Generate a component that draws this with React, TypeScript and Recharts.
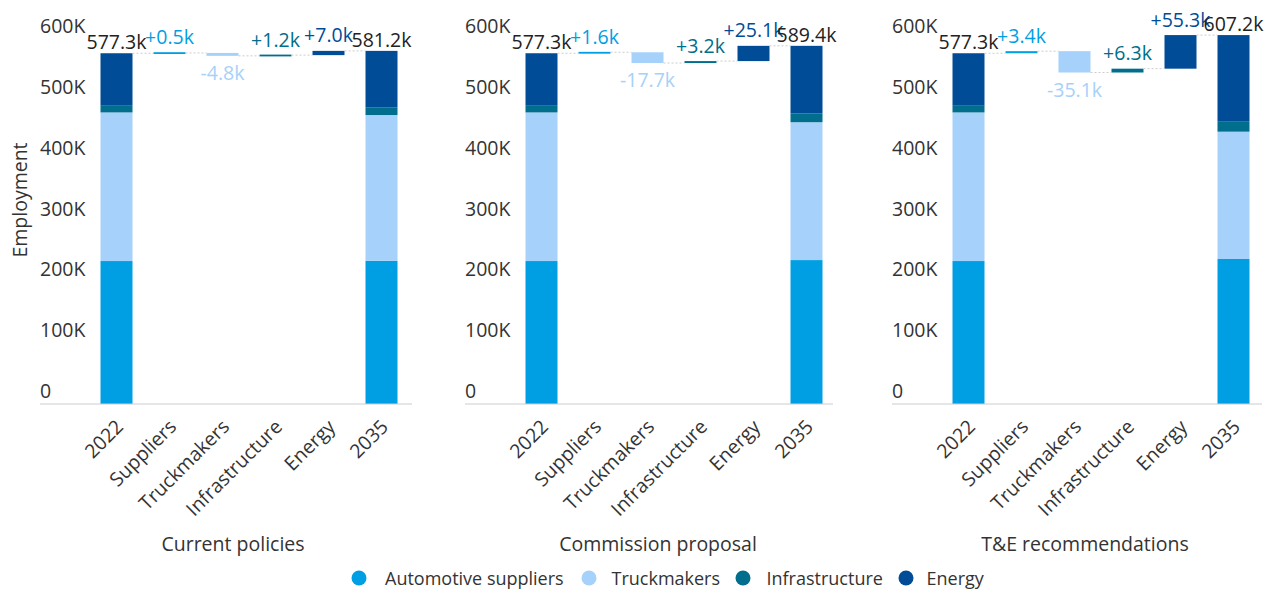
import React from 'react';
import { ComposedChart, Bar, XAxis, YAxis, LabelList, Label } from 'recharts';

// ---------- data ----------
const CATEGORIES = ['2022', 'Suppliers', 'Truckmakers', 'Infrastructure', 'Energy', '2035'];
const SERIES_NAMES = ['Automotive suppliers', 'Truckmakers', 'Infrastructure', 'Energy'];
const SERIES_KEYS = ['auto', 'trucks', 'infra', 'energy'];
const BASE_2022 = [235.3, 244.6, 11.0, 86.4]; // thousands of jobs
const TOTAL_2022 = 577.3;
const DELTAS_CURRENT = [0.5, -4.8, 1.2, 7.0];
const DELTAS_COMMISSION = [1.6, -17.7, 3.2, 25.1];
const DELTAS_TE = [3.4, -35.1, 6.3, 55.3];
const TOTALS_2035 = [581.2, 589.4, 607.2];
const PANEL_TITLES = ['Current policies', 'Commission proposal', 'T&E recommendations'];
const Y_TICKS = [0, 100, 200, 300, 400, 500, 600];
const Y_TICK_LABELS = ['0', '100K', '200K', '300K', '400K', '500K', '600K'];
const Y_TITLE = 'Employment';

// ---------- style ----------
const COLORS = ['#009FE3', '#A6D1FA', '#006E8C', '#004C97'];
const FONT = "'Open Sans', 'Noto Sans', sans-serif";
const FS = 19.5;
const FS_LEGEND = 18;
const TEXT = '#333333';

const MARGIN_R = 8;
const MARGIN_T = 3;
const Y_AXIS_W = 40;
const PLOT_H = 401;
const CHART_H = 560;
const AXIS_Y = MARGIN_T + PLOT_H;
const PAD_L = 49.5;
const BAND = 53;
const BAR = 32;
const MIN_H = 1.8;
// per-panel layout: left edge of the x axis and its length
const PANEL_AXIS_LEFT = [40, 465, 892];
const PANEL_AXIS_LEN = [372, 368, 370];
// legend layout: circle centres and text starts
const LEGEND_CIRCLE_X = [359, 589, 743, 906];
const LEGEND_TEXT_X = [385, 611.5, 766.5, 926.5];
const LEGEND_Y = 578;

function buildRows(deltas: number[], total2035: number) {
  const rows: any[] = [];
  const first: any = { name: CATEGORIES[0], base: 0, kind: 'total', labelSeries: 3, label: TOTAL_2022.toFixed(1) + 'k' };
  SERIES_KEYS.forEach((k, i) => (first[k] = BASE_2022[i]));
  rows.push(first);
  let level = TOTAL_2022;
  deltas.forEach((d, i) => {
    const next = level + d;
    const r: any = {
      name: CATEGORIES[i + 1],
      base: Math.min(level, next),
      kind: 'delta',
      negative: d < 0,
      labelSeries: i,
      label: (d >= 0 ? '+' : '') + d.toFixed(1) + 'k',
    };
    SERIES_KEYS.forEach((k, j) => (r[k] = j === i ? Math.abs(d) : 0));
    rows.push(r);
    level = next;
  });
  const last: any = { name: CATEGORIES[5], base: 0, kind: 'total', labelSeries: 3, label: total2035.toFixed(1) + 'k' };
  SERIES_KEYS.forEach((k, i) => (last[k] = BASE_2022[i] + deltas[i]));
  rows.push(last);
  return rows;
}

const PANELS = [
  buildRows(DELTAS_CURRENT, TOTALS_2035[0]),
  buildRows(DELTAS_COMMISSION, TOTALS_2035[1]),
  buildRows(DELTAS_TE, TOTALS_2035[2]),
];

const Segment = (p: any) => {
  const { x, y, width, height, fill } = p;
  if (!(height > 0.0001)) return <g />;
  let h = height;
  let yy = y;
  if (h < MIN_H) {
    yy = y - (MIN_H - h) / 2;
    h = MIN_H;
  }
  return <rect x={x} y={yy} width={width} height={h} fill={fill} />;
};

const makeLabel = (rows: any[], k: number) => (p: any) => {
  const vb = p.viewBox || {};
  const x = p.x ?? vb.x;
  const y = p.y ?? vb.y;
  const width = p.width ?? vb.width;
  const height = p.height ?? vb.height;
  const index = p.index;
  const row = rows[index];
  if (!row || row.labelSeries !== k) return null;
  const cx = x + width / 2;
  let ty: number;
  let levelY: number;
  let color: string;
  if (row.kind === 'total') {
    ty = y - 4;
    levelY = y;
    color = '#222222';
  } else if (row.negative) {
    ty = y + height + 24;
    levelY = y + height;
    color = COLORS[k];
  } else {
    ty = y - 8.5;
    levelY = y;
    color = COLORS[k];
  }
  return (
    <g>
      {index < rows.length - 1 && (
        <line x1={x + width} x2={x + BAND} y1={levelY} y2={levelY} stroke="#cccccc" strokeWidth={1} strokeDasharray="2 2" />
      )}
      <text x={cx} y={ty} textAnchor="middle" fontFamily={FONT} fontSize={FS} fill={color}>
        {row.label}
      </text>
    </g>
  );
};

const YTick = (p: any) => {
  const i = Y_TICKS.indexOf(p.payload.value);
  return (
    <text x={Y_AXIS_W} y={p.y - 6} textAnchor="start" fontFamily={FONT} fontSize={FS} fill={TEXT}>
      {Y_TICK_LABELS[i]}
    </text>
  );
};

const XTick = (p: any) => {
  const ax = p.x + 8.5;
  const ay = AXIS_Y + 24;
  return (
    <text x={ax} y={ay} transform={`rotate(-45, ${ax}, ${ay})`} textAnchor="end" fontFamily={FONT} fontSize={FS} fill={TEXT}>
      {p.payload.value}
    </text>
  );
};

function Panel({ rows, title, idx }: { rows: any[]; title: string; idx: number }) {
  const left = PANEL_AXIS_LEFT[idx] - Y_AXIS_W;
  const len = PANEL_AXIS_LEN[idx];
  const padR = len - PAD_L - BAND * CATEGORIES.length;
  return (
    <div style={{ position: 'absolute', left, top: 0 }}>
      <ComposedChart
        width={Y_AXIS_W + len + MARGIN_R}
        height={CHART_H}
        data={rows}
        margin={{ top: MARGIN_T, right: MARGIN_R, bottom: 0, left: 0 }}
        barSize={BAR}
      >
        <XAxis
          dataKey="name"
          type="category"
          interval={0}
          padding={{ left: PAD_L, right: padR }}
          axisLine={{ stroke: '#cccccc' }}
          tickLine={false}
          height={CHART_H - MARGIN_T - PLOT_H}
          tick={<XTick />}
        >
          <Label
            content={() => (
              <text x={Y_AXIS_W + 193} y={550.5} textAnchor="middle" fontFamily={FONT} fontSize={FS} fill={TEXT}>
                {title}
              </text>
            )}
          />
        </XAxis>
        <YAxis
          type="number"
          domain={[0, 660]}
          ticks={Y_TICKS}
          width={Y_AXIS_W}
          axisLine={false}
          tickLine={false}
          tick={<YTick />}
        >
          {idx === 0 && (
            <Label
              content={() => {
                const cy = 200;
                const tx = 26.5;
                return (
                  <text x={tx} y={cy} transform={`rotate(-90, ${tx}, ${cy})`} textAnchor="middle" fontFamily={FONT} fontSize={FS} fill={TEXT}>
                    {Y_TITLE}
                  </text>
                );
              }}
            />
          )}
        </YAxis>
        <Bar dataKey="base" stackId="s" fill="transparent" isAnimationActive={false} shape={() => <g />} />
        {SERIES_KEYS.map((k, i) => (
          <Bar key={k} dataKey={k} name={SERIES_NAMES[i]} stackId="s" fill={COLORS[i]} isAnimationActive={false} shape={(p: any) => <Segment {...p} />}>
            <LabelList dataKey={k} content={makeLabel(rows, i)} />
          </Bar>
        ))}
      </ComposedChart>
    </div>
  );
}

function Legend() {
  return (
    <svg style={{ position: 'absolute', left: 0, top: 560 }} width={1268} height={30}>
      {SERIES_NAMES.map((n, i) => (
        <g key={n}>
          <circle cx={LEGEND_CIRCLE_X[i]} cy={LEGEND_Y - 560} r={7.5} fill={COLORS[i]} />
          <text x={LEGEND_TEXT_X[i]} y={LEGEND_Y - 560 + 6.5} fontFamily={FONT} fontSize={FS_LEGEND} fill={TEXT}>
            {n}
          </text>
        </g>
      ))}
    </svg>
  );
}

export default function App() {
  return (
    <div style={{ position: 'absolute', left: 0, top: 0, width: 1268, height: 590, overflow: 'hidden', background: '#fff' }}>
      {PANELS.map((rows, i) => (
        <Panel key={i} rows={rows} title={PANEL_TITLES[i]} idx={i} />
      ))}
      <Legend />
    </div>
  );
}
